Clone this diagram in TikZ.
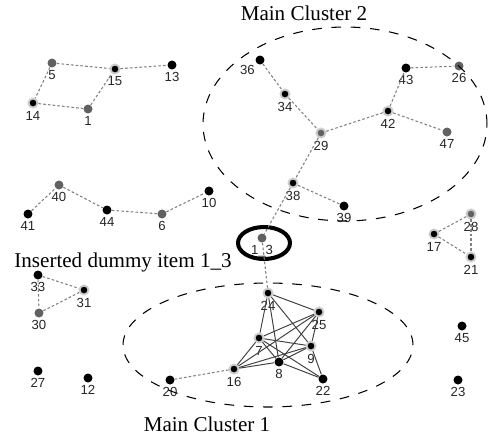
\documentclass[tikz,border=0pt]{standalone}
\usepackage{fontspec}
\setmainfont{Liberation Serif}
\newfontfamily\lblfont{Liberation Sans}
\begin{document}
\begin{tikzpicture}[x=0.02cm,y=-0.02cm,
    dot/.style={circle,fill=black,inner sep=0pt,minimum size=0.18cm},
    grey/.style={dot,fill=black!62},
    halo/.style={draw=gray!40,line width=1.1pt},
    every label/.style={font=\lblfont\fontsize{7.5}{8}\selectfont,inner sep=0pt,text=black!85},
    label distance=1.2pt,
    link/.style={draw=black!50,dash pattern=on 1.5pt off 1.2pt,line width=0.6pt},
    tie/.style={draw=black!75,line width=0.55pt},
    cluster/.style={dash pattern=on 5.5pt off 5.5pt,line width=0.6pt},
    title/.style={font=\fontsize{12}{14}\selectfont}]
  \useasboundingbox (0,0) rectangle (490,434);
  \draw
    (52,63) node[grey,label=below:5] (5){}
    (115,69) node[dot,halo,label=below:15] (15){}
    (172,65) node[dot,label=below:13] (13){}
    (33,103) node[dot,halo,label=below:14] (14){}
    (88,109) node[grey,label=below:1] (1){}
    (28,214) node[dot,label=below:41] (41){}
    (59,185) node[grey,label=below:40] (40){}
    (107,210) node[dot,label=below:44] (44){}
    (162,214) node[grey,label=below:6] (6){}
    (209,191) node[dot,label=below:10] (10){}
    (38,275) node[dot,label=below:33] (33){}
    (84,290) node[dot,halo,label=below:31] (31){}
    (39,313) node[grey,label=below:30] (30){}
    (38,371) node[dot,label=below:27] (27){}
    (88,378) node[dot,label=below:12] (12){}
    (260,60) node[dot,label={below left:36}] (36){}
    (285,94) node[dot,halo,label=below:34] (34){}
    (321,133) node[grey,halo,label=below:29] (29){}
    (388,111) node[dot,halo,label=below:42] (42){}
    (406,68) node[dot,label=below:43] (43){}
    (459,66) node[grey,label=below:26] (26){}
    (447,132) node[grey,label=below:47] (47){}
    (293,183) node[dot,halo,label=below:38] (38){}
    (344,206) node[dot,label=below:39] (39){}
    (471,214) node[grey,halo,label=below:28] (28){}
    (434,234) node[dot,halo,label=below:17] (17){}
    (471,257) node[dot,halo,label=below:21] (21){}
    (462,326) node[dot,label=below:45] (45){}
    (458,380) node[dot,label=below:23] (23){}
    (262,238) node[grey,label=below:1\_3] (dummy){}
    (268,293) node[dot,halo,label=below:24] (24){}
    (319,312) node[dot,halo,label=below:25] (25){}
    (259,338) node[dot,halo,label=below:7] (7){}
    (311,346) node[dot,halo,label=below:9] (9){}
    (279,362) node[dot,label=below:8] (8){}
    (234,369) node[dot,halo,label=below:16] (16){}
    (170,380) node[dot,label=below:20] (20){}
    (323,379) node[dot,label=below:22] (22){};
  % clusters
  \draw[cluster] (345,124) ellipse [x radius=2.84cm,y radius=1.94cm];
  \draw[cluster] (268,345) ellipse [x radius=2.9cm,y radius=1.24cm];
  \draw[line width=2.3pt] (264,243) ellipse [x radius=0.52cm,y radius=0.32cm];
  \node[title] (mc2) at (304,13) {Main Cluster 2};
  \node[title] (mc1) at (207,424) {Main Cluster 1};
  \node[title] (ins) at (123,262) {Inserted dummy item 1\_3};
  \begin{scope}[link]
    \draw (5) to (15);
    \draw (15) to (13);
    \draw (5) to (14);
    \draw (14) to (1);
    \draw (1) to (15);
    \draw (41) to (40);
    \draw (40) to (44);
    \draw (44) to (6);
    \draw (6) to (10);
    \draw (33) to (31);
    \draw (33) to (30);
    \draw (30) to (31);
    \draw (36) to (34);
    \draw (34) to (29);
    \draw (29) to (42);
    \draw (42) to (43);
    \draw (43) to (26);
    \draw (42) to (47);
    \draw (29) to (38);
    \draw (38) to (39);
    \draw (38) to (dummy);
    \draw (dummy) to (24);
    \draw (28) to (17);
    \draw (17) to (21);
    \draw (28) to (21);
    \draw (16) to (20);
  \end{scope}
  \begin{scope}[tie]
    \draw (24) to (25);
    \draw (24) to (7);
    \draw (24) to (8);
    \draw (24) to (9);
    \draw (25) to (7);
    \draw (25) to (9);
    \draw (25) to (8);
    \draw (25) to (16);
    \draw (7) to (9);
    \draw (7) to (8);
    \draw (7) to (22);
    \draw (7) to (16);
    \draw (9) to (8);
    \draw (9) to (16);
    \draw (9) to (22);
    \draw (8) to (16);
    \draw (8) to (22);
  \end{scope}
\end{tikzpicture}
\end{document}
